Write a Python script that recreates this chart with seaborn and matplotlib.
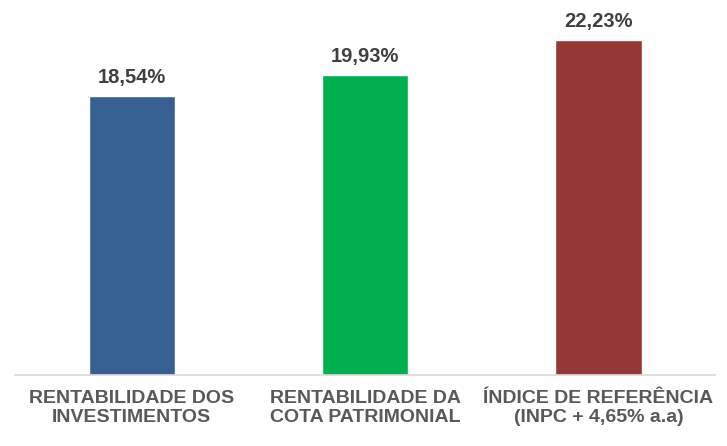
import matplotlib
matplotlib.use("Agg")
import matplotlib.pyplot as plt
import seaborn as sns
import pandas as pd

categories = ["RENTABILIDADE DOS\nINVESTIMENTOS",
              "RENTABILIDADE DA\nCOTA PATRIMONIAL",
              "ÍNDICE DE REFERÊNCIA\n(INPC + 4,65% a.a)"]
values = [18.54, 19.93, 22.23]
value_labels = ["18,54%", "19,93%", "22,23%"]
colors = ["#376092", "#00B050", "#953735"]

sns.set_theme(style="white")
plt.rcParams['font.family'] = ['Liberation Sans', 'DejaVu Sans']

df = pd.DataFrame({"cat": categories, "val": values})

fig = plt.figure(figsize=(7.27, 4.46), dpi=100)
ax = fig.add_axes([15/727, 71/446, 700/727, 1 - 10/446 - 71/446])
sns.barplot(data=df, x="cat", y="val", hue="cat", palette=colors,
            width=0.37, legend=False, ax=ax, saturation=1)

ax.set_ylim(0, 24.25)
ax.set_xlim(-0.5, 2.5)
ax.set_xlabel("")
ax.set_ylabel("")
ax.set_yticks([])
for s in ["top", "left", "right"]:
    ax.spines[s].set_visible(False)
ax.spines["bottom"].set_color("#D9D9D9")
ax.spines["bottom"].set_linewidth(1.2)
ax.tick_params(axis="x", length=0, pad=11)
for lbl in ax.get_xticklabels():
    lbl.set_fontsize(14)
    lbl.set_fontweight("bold")
    lbl.set_color("#595959")
    lbl.set_linespacing(1.1)

for i, (v, t) in enumerate(zip(values, value_labels)):
    ax.annotate(t, (i, v), xytext=(0, 9.5), textcoords="offset points",
                ha="center", va="baseline", fontsize=14.5, fontweight="bold",
                color="#404040")

fig.savefig("out.png", dpi=100)
